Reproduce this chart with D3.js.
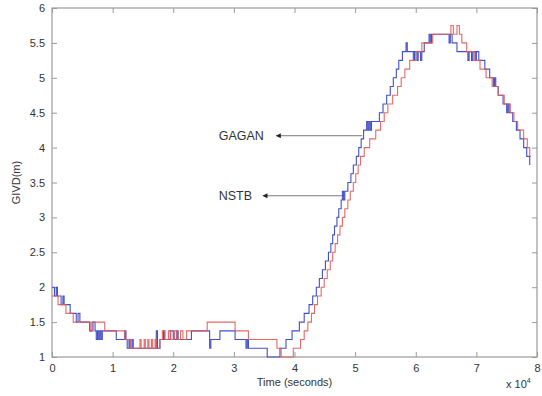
<!DOCTYPE html>
<html>
<head>
<meta charset="utf-8">
<script src="https://cdn.jsdelivr.net/npm/d3@7"></script>
<style>
body { margin: 0; background: #fff; }
svg text { font-family: "Liberation Sans", Arial, sans-serif; }
</style>
</head>
<body>
<div id="chart"></div>
<script>
// time in units of 10^4 seconds, GIVD in metres (step series)
var gaganTime = [0.00,0.04,0.07,0.09,0.15,0.18,0.20,0.30,0.40,0.43,0.46,0.62,0.66,0.71,0.73,0.75,0.77,0.79,0.81,0.83,
  1.06,1.20,1.22,1.24,1.27,1.29,1.32,1.34,1.72,1.74,1.78,1.84,1.86,1.95,2.00,2.06,2.08,2.30,2.60,2.62,2.77,3.02,3.20,3.22,3.24,
  3.55,3.76,3.86,3.96,4.08,4.16,4.24,4.30,4.36,4.41,4.46,4.51,4.56,4.60,4.63,4.66,4.70,4.73,4.77,4.79,4.81,4.83,4.88,4.93,4.97,
  5.02,5.06,5.10,5.14,5.19,5.21,5.23,5.25,5.27,5.40,5.46,5.52,5.58,5.63,5.68,5.72,5.78,5.84,5.86,5.96,5.98,6.02,6.04,6.08,6.10,
  6.14,6.22,6.24,6.26,6.55,6.57,6.60,6.68,6.86,6.88,6.92,6.94,6.98,7.00,7.04,7.14,7.22,7.28,7.30,7.32,7.36,7.44,7.50,7.52,7.54,
  7.60,7.66,7.72,7.78,7.83,7.88];
var gaganGivd = [2.0,1.875,2.0,1.875,1.75,1.875,1.75,1.625,1.5,1.625,1.5,1.375,1.5,1.375,1.25,1.375,1.25,1.375,1.25,1.375,
  1.25,1.375,1.25,1.125,1.25,1.125,1.25,1.125,1.375,1.125,1.25,1.375,1.25,1.375,1.25,1.375,1.25,1.375,1.125,1.25,1.375,1.25,1.125,1.25,1.125,
  1.0,1.125,1.25,1.375,1.5,1.625,1.75,1.875,2.0,2.125,2.25,2.375,2.5,2.625,2.75,2.875,3.0,3.125,3.25,3.375,3.25,3.375,3.5,3.625,3.75,
  3.875,4.0,4.125,4.25,4.375,4.25,4.375,4.25,4.375,4.5,4.625,4.75,4.875,5.0,5.125,5.25,5.375,5.5,5.375,5.25,5.375,5.25,5.375,5.25,5.375,
  5.5,5.625,5.5,5.625,5.5,5.625,5.5,5.375,5.25,5.375,5.25,5.375,5.25,5.375,5.25,5.125,5.0,4.875,5.0,4.875,4.75,4.625,4.5,4.625,4.5,
  4.375,4.25,4.125,4.0,3.875,3.75];

var nstbTime = [0.00,0.10,0.23,0.35,0.63,0.68,0.87,1.20,1.30,1.45,1.47,1.52,1.54,1.58,1.60,1.64,1.66,1.70,1.72,1.78,1.82,1.86,1.92,1.96,
  2.02,2.06,2.12,2.16,2.22,2.56,3.02,3.24,3.71,3.78,3.98,4.10,4.16,4.22,4.28,4.33,4.38,4.44,4.49,4.54,4.59,4.63,4.67,4.71,4.75,4.79,
  4.83,4.88,4.92,4.97,5.01,5.05,5.09,5.15,5.24,5.34,5.42,5.48,5.54,5.62,5.70,5.76,5.82,5.90,6.00,6.10,6.28,6.58,6.62,6.68,6.72,6.76,
  6.84,6.96,7.06,7.16,7.26,7.36,7.46,7.56,7.62,7.68,7.78,7.84,7.88,7.90];
var nstbGivd = [1.875,1.75,1.625,1.5,1.375,1.5,1.375,1.25,1.125,1.25,1.125,1.25,1.125,1.25,1.125,1.25,1.125,1.25,1.125,1.25,1.375,1.25,1.375,1.25,
  1.375,1.25,1.375,1.25,1.375,1.5,1.375,1.25,1.125,1.0,1.125,1.25,1.375,1.5,1.625,1.75,1.875,2.0,2.125,2.25,2.375,2.5,2.625,2.75,2.875,3.0,
  3.125,3.25,3.375,3.5,3.625,3.75,3.875,4.0,4.125,4.25,4.375,4.5,4.625,4.75,4.875,5.0,5.125,5.25,5.375,5.5,5.625,5.75,5.625,5.75,5.625,5.5,
  5.375,5.25,5.125,5.0,4.875,4.75,4.625,4.5,4.375,4.25,4.125,4.0,3.875,3.875];

var xTicks = [0,1,2,3,4,5,6,7,8];
var yTicks = [1,1.5,2,2.5,3,3.5,4,4.5,5,5.5,6];

// label, text x, arrow from x, arrow to x, y (data units)
var notes = [
  {label: "GAGAN", tx: 2.75, from: 5.12, to: 3.70, y: 4.17},
  {label: "NSTB",  tx: 2.75, from: 4.78, to: 3.48, y: 3.31}
];

var W = 542, H = 396;
var margin = {top: 8, right: 5, bottom: 39, left: 52};

var svg = d3.select("#chart").append("svg")
  .attr("width", W).attr("height", H);

var x = d3.scaleLinear().domain([0, 8]).range([margin.left, W - margin.right]);
var y = d3.scaleLinear().domain([1, 6]).range([H - margin.bottom, margin.top]);

var gagan = gaganTime.map(function(t, i) { return [t, gaganGivd[i]]; });
var nstb = nstbTime.map(function(t, i) { return [t, nstbGivd[i]]; });

var line = d3.line()
  .x(function(d) { return x(d[0]); })
  .y(function(d) { return y(d[1]); })
  .curve(d3.curveStepAfter);

var axisCol = "#9a9a9a";

// box
svg.append("rect")
  .attr("x", x(0)).attr("y", y(6))
  .attr("width", x(8) - x(0)).attr("height", y(1) - y(6))
  .attr("fill", "none").attr("stroke", axisCol).attr("stroke-width", 1.2);

// inward ticks on all four sides
var tl = 5;
var bottom = d3.axisBottom(x).tickValues(xTicks).tickSizeInner(-tl).tickSizeOuter(0).tickPadding(7);
var gx = svg.append("g").attr("transform", "translate(0," + y(1) + ")").call(bottom);
var left = d3.axisLeft(y).tickValues(yTicks).tickSizeInner(-tl).tickSizeOuter(0).tickPadding(7)
  .tickFormat(d3.format("~g"));
var gy = svg.append("g").attr("transform", "translate(" + x(0) + ",0)").call(left);
var gt = svg.append("g").attr("transform", "translate(0," + y(6) + ")")
  .call(d3.axisTop(x).tickValues(xTicks).tickSizeInner(-tl).tickSizeOuter(0).tickFormat(""));
var gr = svg.append("g").attr("transform", "translate(" + x(8) + ",0)")
  .call(d3.axisRight(y).tickValues(yTicks).tickSizeInner(-tl).tickSizeOuter(0).tickFormat(""));

[gx, gy, gt, gr].forEach(function(g) {
  g.select(".domain").remove();
  g.selectAll(".tick line").attr("stroke", axisCol);
  g.selectAll(".tick text").attr("fill", "#333").style("font-size", "11px");
});

// series
svg.append("path").datum(gagan)
  .attr("d", line).attr("fill", "none")
  .attr("stroke", "#4350c8").attr("stroke-width", 1.1);
svg.append("path").datum(nstb)
  .attr("d", line).attr("fill", "none")
  .attr("stroke", "#e25a55").attr("stroke-width", 1.1).attr("stroke-opacity", 0.9);

// annotations with arrows
svg.append("defs").append("marker")
  .attr("id", "arr").attr("viewBox", "0 0 10 10")
  .attr("refX", 9).attr("refY", 5)
  .attr("markerWidth", 7).attr("markerHeight", 5)
  .attr("orient", "auto")
  .append("path").attr("d", "M0,0L10,5L0,10Z").attr("fill", "#222");

notes.forEach(function(n) {
  svg.append("line")
    .attr("x1", x(n.from)).attr("x2", x(n.to))
    .attr("y1", y(n.y)).attr("y2", y(n.y))
    .attr("stroke", "#777").attr("stroke-width", 1)
    .attr("marker-end", "url(#arr)");
  svg.append("text")
    .attr("x", x(n.tx)).attr("y", y(n.y) + 4.5)
    .attr("fill", "#333").style("font-size", "12.5px")
    .text(n.label);
});

// axis labels
svg.append("text")
  .attr("x", x(4)).attr("y", H - 10)
  .attr("text-anchor", "middle").attr("fill", "#333").style("font-size", "11px")
  .text("Time (seconds)");

svg.append("text")
  .attr("transform", "translate(20," + y(3.5) + ") rotate(-90)")
  .attr("text-anchor", "middle").attr("fill", "#333").style("font-size", "11px")
  .text("GIVD(m)");

var mult = svg.append("text")
  .attr("x", x(8) - 31).attr("y", H - 8)
  .attr("fill", "#333").style("font-size", "11px");
mult.append("tspan").text("x 10");
mult.append("tspan").attr("dy", -5).style("font-size", "7px").text("4");
</script>
</body>
</html>
